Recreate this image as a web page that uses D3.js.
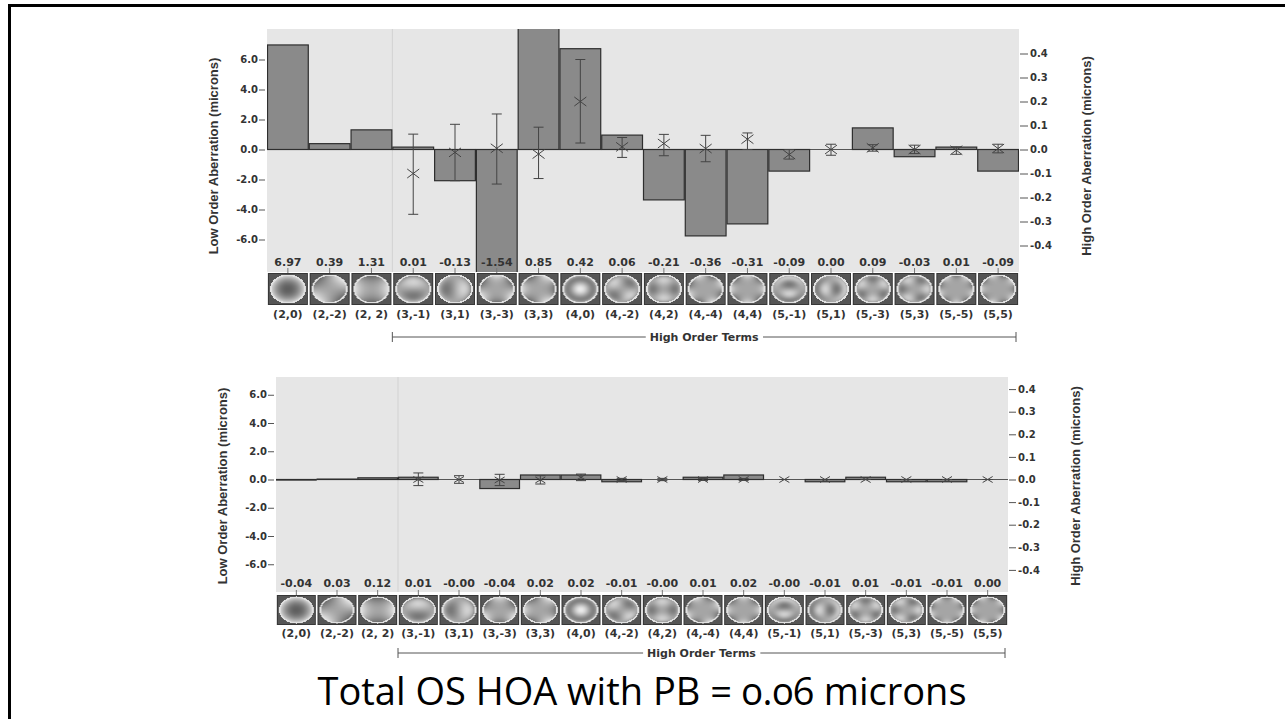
<!DOCTYPE html>
<html lang="en">
<head>
  <meta charset="utf-8">
  <title>Zernike terms</title>
  <script src="https://d3js.org/d3.v7.min.js"></script>
  <style>
    body { margin: 0; background: #fff; }
    svg { display: block; }
    .tick text { font-family: "DejaVu Sans", sans-serif; font-weight: bold; font-size: 10px; fill: #333; }
    .tick line { stroke: #555; }
    .small { font-family: "DejaVu Sans", sans-serif; font-weight: bold; font-size: 11px; fill: #333; }
    .axis-title { font-family: "Liberation Sans", Arial, sans-serif; font-weight: bold; font-size: 13px; fill: #333; }
    .title { font-family: "Open Sans", sans-serif; font-size: 38px; fill: #000; font-variant-numeric: oldstyle-nums; }
  </style>
</head>
<body>
<script>
  // zernike terms, first 3 are low order (left axis), rest high order (right axis)
  var terms = ["(2,0)", "(2,-2)", "(2, 2)", "(3,-1)", "(3,1)", "(3,-3)", "(3,3)", "(4,0)", "(4,-2)",
    "(4,2)", "(4,-4)", "(4,4)", "(5,-1)", "(5,1)", "(5,-3)", "(5,3)", "(5,-5)", "(5,5)"];
  var lowOrderCount = 3;

  // top chart
  var topValues = ["6.97", "0.39", "1.31", "0.01", "-0.13", "-1.54", "0.85", "0.42", "0.06",
    "-0.21", "-0.36", "-0.31", "-0.09", "0.00", "0.09", "-0.03", "0.01", "-0.09"];
  var topMean = [null, null, null, -0.10, -0.012, 0.005, -0.019, 0.20, 0.011,
    0.025, 0.004, 0.043, -0.021, 0.0, 0.007, 0.0, -0.003, 0.004];
  var topHigh = [null, null, null, 0.064, 0.105, 0.148, 0.093, 0.375, 0.05,
    0.063, 0.059, 0.069, 0.0, 0.022, 0.02, 0.018, 0.011, 0.022];
  var topLow = [null, null, null, -0.27, -0.13, -0.144, -0.121, 0.027, -0.033,
    -0.026, -0.051, 0.0, -0.04, -0.024, -0.007, -0.017, -0.02, -0.014];

  // bottom chart
  var bottomValues = ["-0.04", "0.03", "0.12", "0.01", "-0.00", "-0.04", "0.02", "0.02", "-0.01",
    "-0.00", "0.01", "0.02", "-0.00", "-0.01", "0.01", "-0.01", "-0.01", "0.00"];
  var bottomMean = [null, null, null, 0.0, 0.0, -0.002, -0.002, 0.01, 0.0,
    0.0, 0.0, 0.0, 0.0, 0.0, 0.0, 0.0, 0.0, 0.0];
  var bottomHigh = [null, null, null, 0.029, 0.017, 0.023, 0.017, 0.024, 0.005,
    0.005, 0.004, 0.004, 0.0, 0.0, 0.0, 0.0, 0.0, 0.0];
  var bottomLow = [null, null, null, -0.027, -0.017, -0.027, -0.02, -0.005, -0.005,
    -0.005, -0.004, -0.004, 0.0, 0.0, 0.0, 0.0, 0.0, 0.0];

  var lowTicks = [6, 4, 2, 0, -2, -4, -6];
  var highTicks = [0.4, 0.3, 0.2, 0.1, 0, -0.1, -0.2, -0.3, -0.4];
  var lowDomain = [-8, 8];
  var highDomain = [-0.5, 0.5];

  var W = 1285, H = 719;

  var svg = d3.select("body").append("svg")
    .attr("width", W)
    .attr("height", H);

  var defs = svg.append("defs");

  function fact(k) {
    var r = 1;
    for (var i = 2; i <= k; i++) r *= i;
    return r;
  }

  function zernike(n, m, rho, theta) {
    var am = Math.abs(m), R = 0;
    for (var k = 0; k <= (n - am) / 2; k++) {
      R += (k % 2 ? -1 : 1) * fact(n - k) /
        (fact(k) * fact((n + am) / 2 - k) * fact((n - am) / 2 - k)) * Math.pow(rho, n - 2 * k);
    }
    return m >= 0 ? R * Math.cos(am * theta) : R * Math.sin(am * theta);
  }

  // little wavefront thumbnail for a term
  function wavefront(label, w, h) {
    var nm = label.match(/-?\d+/g).map(Number);
    var c = document.createElement("canvas");
    c.width = w;
    c.height = h;
    var ctx = c.getContext("2d");
    var img = ctx.createImageData(w, h);
    for (var py = 0; py < h; py++) {
      for (var px = 0; px < w; px++) {
        var ex = -(px + 0.5 - w / 2) / (w / 2 - 2);
        var ey = (py + 0.5 - h / 2) / (h / 2 - 1.5);
        var r = Math.sqrt(ex * ex + ey * ey);
        var g;
        if (px < 1 || py < 1 || px >= w - 1 || py >= h - 1) g = 55;
        else if (r > 1) g = 85;
        else if (r > 0.9) g = 225;
        else g = 165 + 70 * zernike(nm[0], nm[1], r, Math.atan2(ey, ex));
        var i = (py * w + px) * 4;
        img.data[i] = img.data[i + 1] = img.data[i + 2] = Math.max(0, Math.min(255, g));
        img.data[i + 3] = 255;
      }
    }
    ctx.putImageData(img, 0, 0);
    return c.toDataURL();
  }

  function drawChart(cfg, values, mean, low, high) {
    var g = svg.append("g");

    var x = d3.scaleBand()
      .domain(terms)
      .range([cfg.x0, cfg.x1])
      .padding(0);

    var yLow = d3.scaleLinear().domain(lowDomain).range([cfg.yBottom, cfg.yTop]);
    var yHigh = d3.scaleLinear().domain(highDomain).range([cfg.yBottom, cfg.yTop]);

    var yFor = function (i) {
      return i < lowOrderCount ? yLow : yHigh;
    };

    g.append("rect")
      .attr("x", cfg.x0)
      .attr("y", cfg.bgTop)
      .attr("width", cfg.x1 - cfg.x0)
      .attr("height", cfg.bgBottom - cfg.bgTop)
      .attr("fill", "#e6e6e6");

    defs.append("clipPath")
      .attr("id", cfg.id)
      .append("rect")
      .attr("x", cfg.x0)
      .attr("y", cfg.bgTop)
      .attr("width", cfg.x1 - cfg.x0)
      .attr("height", cfg.bgBottom - cfg.bgTop);

    // divider between low and high order terms
    var xDiv = x(terms[lowOrderCount]);
    g.append("line")
      .attr("x1", xDiv).attr("x2", xDiv)
      .attr("y1", cfg.bgTop).attr("y2", cfg.bgBottom)
      .attr("stroke", "#d2d2d2");

    var plot = g.append("g").attr("clip-path", "url(#" + cfg.id + ")");

    plot.append("line")
      .attr("x1", cfg.x0).attr("x2", cfg.x1)
      .attr("y1", yLow(0)).attr("y2", yLow(0))
      .attr("stroke", "#555");

    plot.selectAll("rect.bar")
      .data(values)
      .enter()
      .append("rect")
      .attr("class", "bar")
      .attr("x", function (d, i) { return x(terms[i]) + 0.5; })
      .attr("width", x.bandwidth() - 1)
      .attr("y", function (d, i) { return Math.min(yFor(i)(+d), yFor(i)(0)); })
      .attr("height", function (d, i) { return Math.abs(yFor(i)(+d) - yFor(i)(0)); })
      .attr("fill", "#8a8a8a")
      .attr("stroke", "#2e2e2e")
      .attr("stroke-width", 1.2);

    // normal range error bars
    var eb = plot.selectAll("g.err")
      .data(terms.map(function (t, i) { return i; }).filter(function (i) { return mean[i] !== null; }))
      .enter()
      .append("g")
      .attr("class", "err")
      .attr("stroke", "#444")
      .attr("stroke-width", 1)
      .attr("fill", "none");

    var cx = function (i) { return x(terms[i]) + x.bandwidth() / 2; };

    eb.append("line")
      .attr("x1", cx).attr("x2", cx)
      .attr("y1", function (i) { return yHigh(high[i]); })
      .attr("y2", function (i) { return yHigh(low[i]); });
    eb.append("line")
      .attr("x1", function (i) { return cx(i) - cfg.cap; })
      .attr("x2", function (i) { return cx(i) + cfg.cap; })
      .attr("y1", function (i) { return yHigh(high[i]); })
      .attr("y2", function (i) { return yHigh(high[i]); });
    eb.append("line")
      .attr("x1", function (i) { return cx(i) - cfg.cap; })
      .attr("x2", function (i) { return cx(i) + cfg.cap; })
      .attr("y1", function (i) { return yHigh(low[i]); })
      .attr("y2", function (i) { return yHigh(low[i]); });
    eb.append("path")
      .attr("d", function (i) {
        var px = cx(i), py = yHigh(mean[i]);
        return "M" + (px - cfg.mx) + "," + (py - cfg.my) + "L" + (px + cfg.mx) + "," + (py + cfg.my) +
          "M" + (px - cfg.mx) + "," + (py + cfg.my) + "L" + (px + cfg.mx) + "," + (py - cfg.my);
      });

    // value labels
    g.selectAll("text.val")
      .data(values)
      .enter()
      .append("text")
      .attr("class", "small val")
      .attr("x", function (d, i) { return cx(i); })
      .attr("y", cfg.valY)
      .attr("text-anchor", "middle")
      .text(function (d) { return d; });

    // thumbnails
    var iw = Math.floor(x.bandwidth()) - 1;
    var ih = cfg.strip[1] - cfg.strip[0];
    g.selectAll("line.mark")
      .data(terms)
      .enter()
      .append("line")
      .attr("x1", function (d) { return x(d) + x.bandwidth() / 2; })
      .attr("x2", function (d) { return x(d) + x.bandwidth() / 2; })
      .attr("y1", cfg.strip[0] - 5)
      .attr("y2", cfg.strip[0])
      .attr("stroke", "#777");

    g.selectAll("image")
      .data(terms)
      .enter()
      .append("image")
      .attr("x", function (d) { return x(d) + (x.bandwidth() - iw) / 2; })
      .attr("y", cfg.strip[0])
      .attr("width", iw)
      .attr("height", ih)
      .attr("href", function (d) { return wavefront(d, iw, ih); });

    g.selectAll("text.cat")
      .data(terms)
      .enter()
      .append("text")
      .attr("class", "small cat")
      .attr("x", function (d) { return x(d) + x.bandwidth() / 2; })
      .attr("y", cfg.catY)
      .attr("text-anchor", "middle")
      .text(function (d) { return d; });

    // axes
    var left = g.append("g")
      .attr("transform", "translate(" + (cfg.x0 - 2) + ",0)")
      .call(d3.axisLeft(yLow).tickValues(lowTicks).tickFormat(d3.format(".1f")).tickSize(6).tickPadding(1));
    left.select(".domain").remove();

    var right = g.append("g")
      .attr("transform", "translate(" + (cfg.x1 + 1) + ",0)")
      .call(d3.axisRight(yHigh).tickValues(highTicks).tickFormat(d3.format(".1f")).tickSize(cfg.rTick).tickPadding(2));
    right.select(".domain").remove();
    g.selectAll(".tick text").text(function () { return this.textContent.replace("\u2212", "-"); });

    g.append("text")
      .attr("class", "axis-title")
      .attr("transform", "translate(" + cfg.leftTitleX + "," + cfg.titleY + ") rotate(-90)")
      .attr("text-anchor", "middle")
      .attr("dy", "0.35em")
      .text("Low Order Aberration (microns)");

    g.append("text")
      .attr("class", "axis-title")
      .attr("transform", "translate(" + cfg.rightTitleX + "," + cfg.titleY + ") rotate(-90)")
      .attr("text-anchor", "middle")
      .attr("dy", "0.35em")
      .text("High Order Aberration (microns)");

    // high order terms bracket
    var bx0 = xDiv, bx1 = cfg.x1 - 3, by = cfg.bracketY;
    var br = g.append("g").attr("stroke", "#555");
    br.append("line").attr("x1", bx0).attr("x2", bx1).attr("y1", by).attr("y2", by);
    br.append("line").attr("x1", bx0).attr("x2", bx0).attr("y1", by - 5).attr("y2", by + 5);
    br.append("line").attr("x1", bx1).attr("x2", bx1).attr("y1", by - 5).attr("y2", by + 5);
    var gap = g.append("rect").attr("fill", "#fff");
    var lbl = g.append("text")
      .attr("class", "small")
      .attr("x", (bx0 + bx1) / 2)
      .attr("y", by)
      .attr("dy", "0.35em")
      .attr("text-anchor", "middle")
      .text("High Order Terms");
    var bb = lbl.node().getBBox();
    gap.attr("x", bb.x - 4)
      .attr("y", bb.y)
      .attr("width", bb.width + 8)
      .attr("height", bb.height);
  }

  drawChart({
    id: "clipTop", x0: 267, x1: 1019, bgTop: 29, bgBottom: 272, yTop: 29.5, yBottom: 269.5,
    strip: [273, 305], valY: 265.5, catY: 318, bracketY: 337,
    leftTitleX: 213, rightTitleX: 1086, titleY: 156, cap: 5, mx: 6, my: 4.5, rTick: 8
  }, topValues, topMean, topLow, topHigh);

  drawChart({
    id: "clipBottom", x0: 276, x1: 1008, bgTop: 377, bgBottom: 592, yTop: 366.5, yBottom: 592.5,
    strip: [595, 625], valY: 586.5, catY: 637, bracketY: 653,
    leftTitleX: 222, rightTitleX: 1075, titleY: 486, cap: 5, mx: 5, my: 3, rTick: 7
  }, bottomValues, bottomMean, bottomLow, bottomHigh);

  // slide frame
  svg.append("path")
    .attr("d", "M9.5," + (H + 5) + "V5.5H" + (W + 5))
    .attr("fill", "none")
    .attr("stroke", "#000")
    .attr("stroke-width", 3);

  svg.append("text")
    .attr("class", "title")
    .attr("x", 642)
    .attr("y", 705)
    .attr("text-anchor", "middle")
    .text("Total OS HOA with PB = 0.06 microns");
</script>
</body>
</html>
